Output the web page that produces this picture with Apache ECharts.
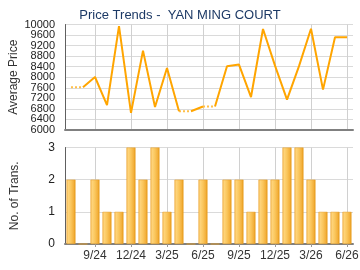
<!DOCTYPE html>
<html>
<head>
<meta charset="utf-8">
<script src="https://cdn.jsdelivr.net/npm/echarts@6/dist/echarts.min.js"></script>
<style>
  html, body { margin: 0; padding: 0; background: #fff; }
  #chart { width: 360px; height: 270px; }
</style>
</head>
<body>
<div id="chart"></div>
<script>
// months shown on the x axis (one per bar)
const months = ['7/24', '8/24', '9/24', '10/24', '11/24', '12/24',
  '1/25', '2/25', '3/25', '4/25', '5/25', '6/25',
  '7/25', '8/25', '9/25', '10/25', '11/25', '12/25',
  '1/26', '2/26', '3/26', '4/26', '5/26', '6/26'];

// average price per month (months without deals carry the previous price)
const avgPrice = [7620, 7620, 8010, 6940, 9940, 6650,
  9010, 6870, 8350, 6710, 6710, 6890,
  6890, 8420, 8480, 7250, 9830, 8440,
  7150, 8420, 9840, 7530, 9515, 9515];

// number of transactions per month
const transCount = [2, 0, 2, 1, 1, 3,
  2, 3, 1, 2, 0, 2,
  0, 2, 2, 1, 2, 2,
  3, 3, 2, 1, 1, 1];

const priceTicks = { min: 6000, max: 10000, step: 400 };
const countTicks = { min: 0, max: 3, step: 1 };

const chart = echarts.init(document.getElementById('chart'));

const font = "'Liberation Sans', Arial, sans-serif";
const showEvery3 = (i) => i % 3 === 2;

// split the price line: a segment going into a month with no deals is dotted
const segs = [];
for (let i = 1; i < months.length; i++) {
  const dotted = transCount[i] === 0;
  const last = segs[segs.length - 1];
  if (last && last.dotted === dotted && last.end === i - 1) {
    last.end = i;
  } else {
    segs.push({ dotted: dotted, start: i - 1, end: i });
  }
}

const lineSeries = segs.map(s => ({
  type: 'line',
  xAxisIndex: 0,
  yAxisIndex: 0,
  showSymbol: false,
  silent: true,
  z: s.dotted ? 2 : 3,
  lineStyle: s.dotted
    ? { color: '#FFC04A', width: 2, type: [2, 2] }
    : { color: '#FFA500', width: 2 },
  data: avgPrice.map((v, i) => (i >= s.start && i <= s.end ? v : null))
}));

const barGradient = new echarts.graphic.LinearGradient(0, 0, 1, 0, [
  { offset: 0, color: '#EFA83A' },
  { offset: 0.15, color: '#FFD67E' },
  { offset: 0.5, color: '#FAC65C' },
  { offset: 0.8, color: '#F3B03C' },
  { offset: 1, color: '#E39510' }
]);

const gridLine = { show: true, lineStyle: { color: '#dadada', width: 1 } };
const axisLine = { show: true, lineStyle: { color: '#808080', width: 2 } };
const priceLabel = {
  fontFamily: font, fontSize: 11, color: '#222', margin: 10,
  hideOverlap: false,
  formatter: (v) => String(v)
};
const yName = { fontFamily: font, fontSize: 12, color: '#333' };

const option = {
  animation: false,
  title: {
    text: 'Price Trends -  YAN MING COURT',
    left: 'center',
    top: 4,
    textStyle: { fontFamily: font, fontSize: 13, fontWeight: 'normal', color: '#1d3a66' }
  },
  grid: [
    { left: 65, right: 7, top: 24.5, height: 105.5, outerBoundsMode: 'none' },
    { left: 65, right: 7, top: 147.5, height: 96.5, outerBoundsMode: 'none' }
  ],
  xAxis: [
    {
      gridIndex: 0,
      type: 'category',
      data: months,
      boundaryGap: true,
      axisLine: axisLine,
      axisTick: { show: false },
      axisLabel: { show: false },
      splitLine: { show: true, interval: showEvery3, alignWithLabel: true, lineStyle: { color: '#d0d0d0' } }
    },
    {
      gridIndex: 1,
      type: 'category',
      data: months,
      boundaryGap: true,
      axisLine: axisLine,
      axisTick: { show: true, interval: showEvery3, alignWithLabel: true, length: 3, lineStyle: { color: '#999' } },
      axisLabel: { interval: showEvery3, fontFamily: font, fontSize: 12, color: '#333', margin: 6 },
      splitLine: { show: true, interval: showEvery3, alignWithLabel: true, lineStyle: { color: '#d0d0d0' } }
    }
  ],
  yAxis: [
    {
      // inner price ticks (6400 .. 9600)
      gridIndex: 0,
      type: 'value',
      min: priceTicks.min,
      max: priceTicks.max,
      interval: priceTicks.step,
      name: 'Average Price',
      nameLocation: 'middle',
      nameGap: 44,
      nameTextStyle: yName,
      axisLine: { show: true, lineStyle: { color: '#606060', width: 1 } },
      axisTick: { show: false },
      axisLabel: Object.assign({ showMinLabel: false, showMaxLabel: false }, priceLabel),
      splitLine: gridLine
    },
    {
      gridIndex: 1,
      type: 'value',
      min: countTicks.min,
      max: countTicks.max,
      interval: countTicks.step,
      name: 'No. of Trans.',
      nameLocation: 'middle',
      nameGap: 44,
      nameTextStyle: yName,
      axisLine: { show: true, lineStyle: { color: '#606060', width: 1 } },
      axisTick: { show: false },
      axisLabel: { fontFamily: font, fontSize: 12, color: '#222', margin: 10 },
      splitLine: gridLine
    },
    {
      // end labels of the price axis (6000 and 10000)
      gridIndex: 0,
      type: 'value',
      position: 'left',
      min: priceTicks.min,
      max: priceTicks.max,
      interval: priceTicks.max - priceTicks.min,
      axisLine: { show: false },
      axisTick: { show: false },
      axisLabel: Object.assign({ showMinLabel: true, showMaxLabel: true }, priceLabel),
      splitLine: { show: false }
    }
  ],
  series: lineSeries.concat([
    {
      type: 'bar',
      xAxisIndex: 1,
      yAxisIndex: 1,
      barWidth: 9,
      silent: true,
      itemStyle: { color: barGradient, borderColor: '#E9A02A', borderWidth: 0.5 },
      data: transCount
    }
  ])
};

chart.setOption(option);
</script>
</body>
</html>
